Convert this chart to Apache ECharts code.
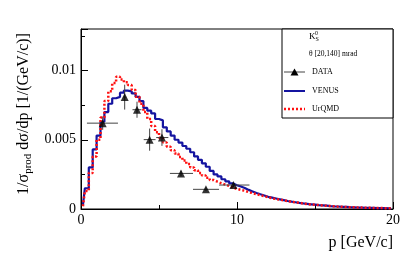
<!DOCTYPE html>
<html>
<head>
<meta charset="utf-8">
<script src="https://cdn.jsdelivr.net/npm/echarts@6/dist/echarts.min.js"></script>
<style>html,body{margin:0;padding:0;background:#fff;}#c{width:407px;height:254px;}</style>
</head>
<body>
<div id="c"></div>
<script>
// bin centres (GeV/c), bin width 0.25
var pCentres = [];
for (var i = 0; i < 80; i++) pCentres.push(0.125 + i * 0.25);

var venus = [
0.0003,0.0015,0.0030,0.0043,0.0053,0.0063,0.0070,0.0076,0.0080,0.0081,
0.0084,0.00855,0.0085,0.00835,0.0081,0.0078,0.0073,0.0071,0.0069,0.0065,
0.0064,0.0059,0.0056,0.0053,0.0050,0.0048,0.00455,0.00435,0.0041,0.0038,
0.00355,0.0033,0.00305,0.00275,0.0025,0.00235,0.00215,0.0020,0.00185,0.00172,
0.00162,0.00152,0.00138,0.00127,0.00116,0.00106,0.00097,0.00088,0.00082,0.00076,
0.00070,0.00064,0.00058,0.00053,0.00049,0.00044,0.00040,0.00037,0.00034,0.00031,
0.00028,0.00026,0.00024,0.00021,0.00019,0.00018,0.00016,0.00015,0.00013,0.00012,
0.00011,0.00010,0.00009,0.000085,0.00008,0.00007,0.000065,0.00006,0.000055,0.00005
];

var urqmd = [
0.0002,0.0013,0.0026,0.0038,0.0050,0.0066,0.0078,0.0085,0.0091,0.00955,
0.00935,0.00915,0.00895,0.0086,0.0081,0.0076,0.0070,0.0065,0.0060,0.00555,
0.00515,0.0048,0.0045,0.00425,0.0040,0.00375,0.0035,0.00325,0.0030,0.0028,
0.0026,0.00242,0.00225,0.0021,0.00197,0.00186,0.00176,0.00167,0.00155,0.00145,
0.00138,0.00132,0.00122,0.00115,0.00107,0.00099,0.00092,0.00085,0.00078,0.00072,
0.00068,0.00063,0.00057,0.00052,0.00048,0.00044,0.00040,0.00036,0.00033,0.00030,
0.00028,0.00025,0.00023,0.00021,0.00019,0.00017,0.00016,0.00014,0.00013,0.00012,
0.00011,0.00010,0.00009,0.000085,0.000075,0.00007,0.000065,0.00006,0.000055,0.00005
];

var dataP    = [1.39, 2.80, 3.59, 4.40, 5.19, 6.41, 8.01, 9.77];
var dataY    = [0.0062, 0.00808, 0.00717, 0.00501, 0.00516, 0.00257, 0.00142, 0.00173];
var dataPLo  = [0.38, 2.70, 3.30, 4.02, 4.82, 5.70, 7.18, 8.85];
var dataPHi  = [2.37, 2.90, 3.88, 4.78, 5.60, 7.18, 8.85, 10.80];
var dataYErr = [0.00048, 0.0009, 0.00058, 0.0008, 0.0006, 0.0002, 0.00012, 0.00015];

var xTicks = [0, 10, 20];
var yTicks = [0, 0.005, 0.01];

var chart = echarts.init(document.getElementById('c'), null, {renderer: 'canvas'});
var FONT = 'Liberation Serif';

var venusData = pCentres.map(function (p, i) { return [p, venus[i]]; });
var urqmdData = pCentres.map(function (p, i) { return [p, urqmd[i]]; });
var ptData = dataP.map(function (p, i) { return [p, dataY[i]]; });
var errData = dataP.map(function (p, i) { return [p, dataY[i], dataPLo[i], dataPHi[i], dataYErr[i]]; });

chart.setOption({
  animation: false,
  backgroundColor: '#fff',
  grid: {left: 81, right: 14, top: 29, bottom: 45, show: true, borderColor: '#000', borderWidth: 1},
  xAxis: {
    type: 'value', min: 0, max: 20, interval: 10,
    name: 'p [GeV/c]', nameLocation: 'end', nameGap: 0,
    nameTextStyle: {fontFamily: FONT, fontSize: 16, color: '#000', align: 'right', verticalAlign: 'top', padding: [26, 0, 0, 0]},
    axisLine: {lineStyle: {color: '#000', width: 1}},
    axisTick: {inside: true, length: 7, lineStyle: {color: '#000'}},
    minorTick: {show: true, splitNumber: 2, length: 4, lineStyle: {color: '#000'}},
    splitLine: {show: false},
    axisLabel: {fontFamily: FONT, fontSize: 14, color: '#000', margin: 4,
      formatter: function (v) { return xTicks.indexOf(v) >= 0 ? String(v) : ''; }}
  },
  yAxis: {
    type: 'value', min: 0, max: 0.013, interval: 0.005,
    name: '{a|1/σ}{s|prod}{a| dσ/dp [1/(GeV/c)]}', nameLocation: 'middle', nameGap: 46, nameRotate: 90,
    nameTextStyle: {fontFamily: FONT, color: '#000', padding: [0, 0, 0, 10],
      rich: {a: {fontFamily: FONT, fontSize: 16, color: '#000'},
             s: {fontFamily: FONT, fontSize: 11, color: '#000', padding: [8, 0, 0, 0]}}},
    axisLine: {lineStyle: {color: '#000', width: 1}},
    axisTick: {inside: true, length: 7, lineStyle: {color: '#000'}},
    minorTick: {show: true, splitNumber: 2, length: 4, lineStyle: {color: '#000'}},
    splitLine: {show: false},
    axisLabel: {fontFamily: FONT, fontSize: 14, color: '#000', margin: 5, showMaxLabel: false,
      formatter: function (v) {
        for (var k = 0; k < yTicks.length; k++) if (Math.abs(v - yTicks[k]) < 1e-9) return String(yTicks[k]);
        return '';
      }}
  },
  series: [
    {type: 'line', name: 'VENUS', data: venusData, step: 'middle', showSymbol: false,
     lineStyle: {color: '#1414a0', width: 2.2}, z: 2},
    {type: 'line', name: 'UrQMD', data: urqmdData, step: 'middle', showSymbol: false,
     lineStyle: {color: '#ff1010', width: 2.5, type: [2, 2], cap: 'butt'}, z: 3},
    {type: 'custom', name: 'err', data: errData, z: 4,
     renderItem: function (params, api) {
       var c = api.coord([api.value(0), api.value(1)]);
       var l = api.coord([api.value(2), api.value(1)]);
       var r = api.coord([api.value(3), api.value(1)]);
       var t = api.coord([api.value(0), api.value(1) + api.value(4)]);
       var b = api.coord([api.value(0), api.value(1) - api.value(4)]);
       var st = {stroke: '#444', lineWidth: 1};
       return {type: 'group', children: [
         {type: 'line', shape: {x1: l[0], y1: c[1], x2: r[0], y2: c[1]}, style: st},
         {type: 'line', shape: {x1: c[0], y1: t[1], x2: c[0], y2: b[1]}, style: st}
       ]};
     }},
    {type: 'scatter', name: 'DATA', data: ptData, symbol: 'triangle', symbolSize: 8,
     itemStyle: {color: '#000'}, z: 5}
  ],
  graphic: [
    {type: 'rect', shape: {x: 282, y: 29, width: 111, height: 89}, style: {fill: '#fff', stroke: '#000', lineWidth: 1}, z: 10},
    {type: 'text', x: 309, y: 31, z: 11, style: {text: '{k|K}{sub|S}', rich: {k: {fontFamily: FONT, fontSize: 9, fill: '#000'}, sub: {fontFamily: FONT, fontSize: 6, fill: '#000', padding: [5, 0, 0, 0]}}}},
    {type: 'text', x: 315, y: 30, z: 11, style: {text: '0', fontFamily: FONT, fontSize: 6, fill: '#000'}},
    {type: 'text', x: 309, y: 50, z: 11, style: {text: 'θ [20,140] mrad', fontFamily: FONT, fontSize: 7.5, fill: '#000'}},
    {type: 'line', shape: {x1: 284, y1: 72, x2: 305, y2: 72}, style: {stroke: '#444', lineWidth: 1}, z: 11},
    {type: 'polygon', shape: {points: [[294.5, 68.5], [298.5, 75.5], [290.5, 75.5]]}, style: {fill: '#000'}, z: 11},
    {type: 'text', x: 312, y: 68, z: 11, style: {text: 'DATA', fontFamily: FONT, fontSize: 8, fill: '#000'}},
    {type: 'line', shape: {x1: 284, y1: 91, x2: 305, y2: 91}, style: {stroke: '#1414a0', lineWidth: 2}, z: 11},
    {type: 'text', x: 312, y: 87, z: 11, style: {text: 'VENUS', fontFamily: FONT, fontSize: 8, fill: '#000'}},
    {type: 'line', shape: {x1: 284, y1: 109, x2: 305, y2: 109}, style: {stroke: '#ff1010', lineWidth: 2.5, lineDash: [2, 2]}, z: 11},
    {type: 'text', x: 312, y: 105, z: 11, style: {text: 'UrQMD', fontFamily: FONT, fontSize: 8, fill: '#000'}}
  ]
});
</script>
</body>
</html>
